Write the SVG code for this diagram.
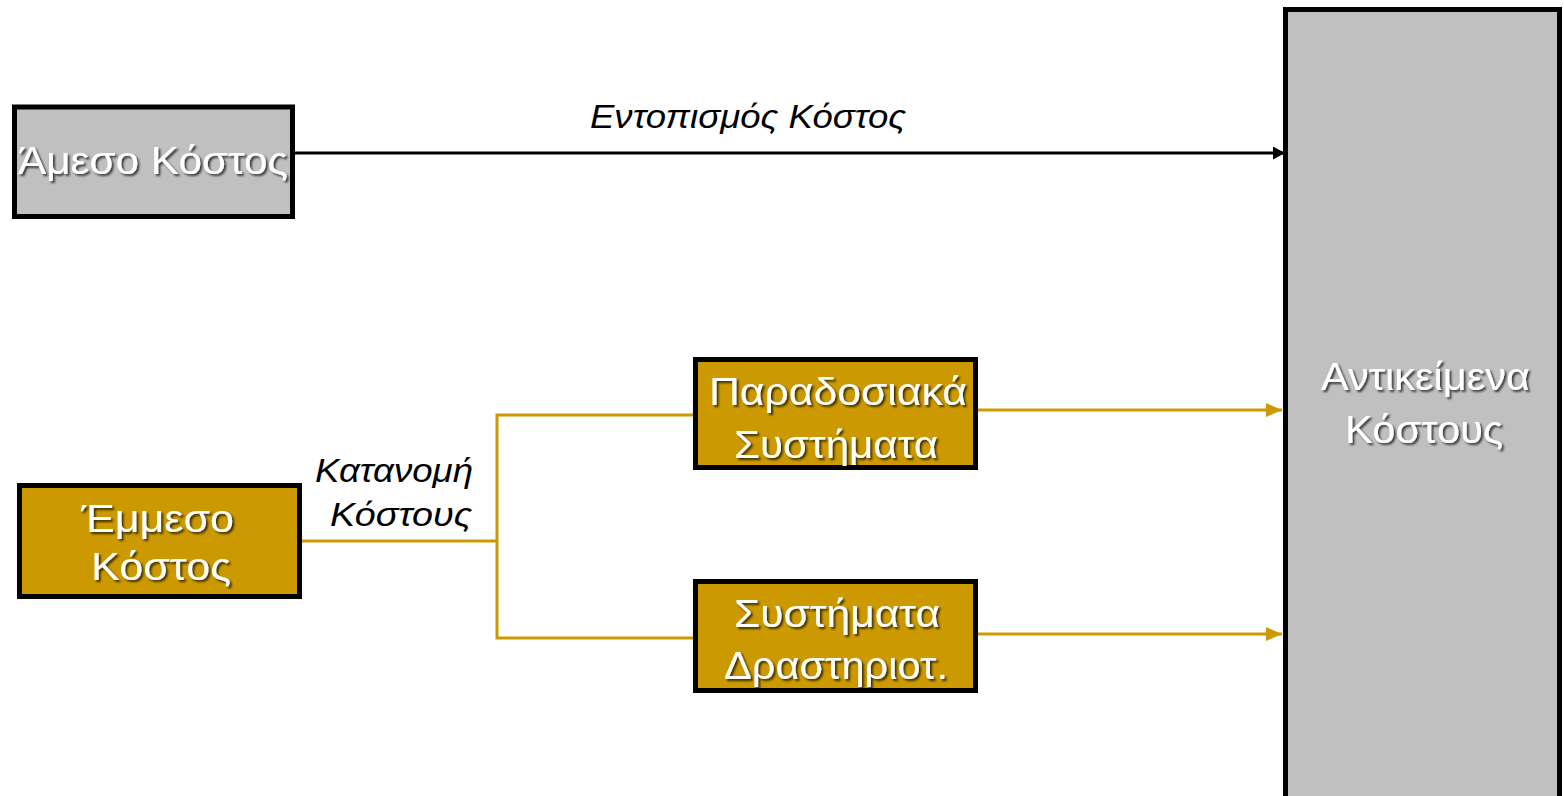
<svg xmlns="http://www.w3.org/2000/svg" width="1564" height="796" viewBox="0 0 1564 796">
<style>
.box{stroke:#000;stroke-width:5}
.gray{fill:#C0C0C0}
.gold{fill:#CC9900}
.wt{font-family:"Liberation Sans",Arial,sans-serif;font-size:39px;fill:#fff;filter:url(#sh)}
.lbl{font-family:"Liberation Sans",Arial,sans-serif;font-size:33px;font-style:italic;fill:#000}
.gl{stroke:#CC9900;stroke-width:3;fill:none}
.bl{stroke:#000;stroke-width:3;fill:none}
</style>
<defs>
<filter id="sh" x="-10%" y="-20%" width="130%" height="150%">
<feDropShadow dx="2" dy="2" stdDeviation="1" flood-color="#000" flood-opacity="0.7"/>
</filter>
<marker id="ab" markerWidth="12" markerHeight="13" refX="12" refY="6.5" orient="auto" markerUnits="userSpaceOnUse">
<path d="M0,0 L12,6.5 L0,13 z" fill="#000"/>
</marker>
<marker id="ag" markerWidth="16" markerHeight="14" refX="16" refY="7" orient="auto" markerUnits="userSpaceOnUse">
<path d="M0,0 L16,7 L0,14 z" fill="#CC9900"/>
</marker>
</defs>
<g id="connectors">
<line class="bl" x1="295" y1="153" x2="1285" y2="153" marker-end="url(#ab)"/>
<polyline class="gl" points="302,541 497,541"/>
<polyline class="gl" points="695,415 497,415 497,638 695,638"/>
<line class="gl" x1="978" y1="410" x2="1282" y2="410" marker-end="url(#ag)"/>
<line class="gl" x1="978" y1="634" x2="1282" y2="634" marker-end="url(#ag)"/>
<text class="lbl" x="590" y="128" textLength="316" lengthAdjust="spacingAndGlyphs">Εντοπισμός Κόστος</text>
<text class="lbl" x="315" y="482" textLength="158" lengthAdjust="spacingAndGlyphs">Κατανομή</text>
<text class="lbl" x="330" y="526" textLength="142" lengthAdjust="spacingAndGlyphs">Κόστους</text>
</g>
<g id="objects">
<rect class="box gray" x="1285.5" y="9.5" width="274" height="795"/>
<text class="wt" x="1321" y="390" textLength="209" lengthAdjust="spacingAndGlyphs">Αντικείμενα</text>
<text class="wt" x="1345" y="443" textLength="158" lengthAdjust="spacingAndGlyphs">Κόστους</text>
</g>
<g id="direct">
<rect class="box gray" x="14.5" y="107" width="278" height="109.5"/>
<text class="wt" x="18" y="174" textLength="270" lengthAdjust="spacingAndGlyphs">Άμεσο Κόστος</text>
</g>
<g id="indirect">
<rect class="box gold" x="19.5" y="485.5" width="280" height="111"/>
<text class="wt" x="81" y="532" textLength="153" lengthAdjust="spacingAndGlyphs">Έμμεσο</text>
<text class="wt" x="91" y="580" textLength="140" lengthAdjust="spacingAndGlyphs">Κόστος</text>
</g>
<g id="traditional">
<rect class="box gold" x="695.5" y="359.5" width="280" height="108"/>
<text class="wt" x="709" y="405" textLength="258" lengthAdjust="spacingAndGlyphs">Παραδοσιακά</text>
<text class="wt" x="734" y="458" textLength="204" lengthAdjust="spacingAndGlyphs">Συστήματα</text>
</g>
<g id="activity">
<rect class="box gold" x="695.5" y="581.5" width="280" height="109"/>
<text class="wt" x="734" y="627" textLength="206" lengthAdjust="spacingAndGlyphs">Συστήματα</text>
<text class="wt" x="724" y="679" textLength="224" lengthAdjust="spacingAndGlyphs">Δραστηριοτ.</text>
</g>
</svg>
